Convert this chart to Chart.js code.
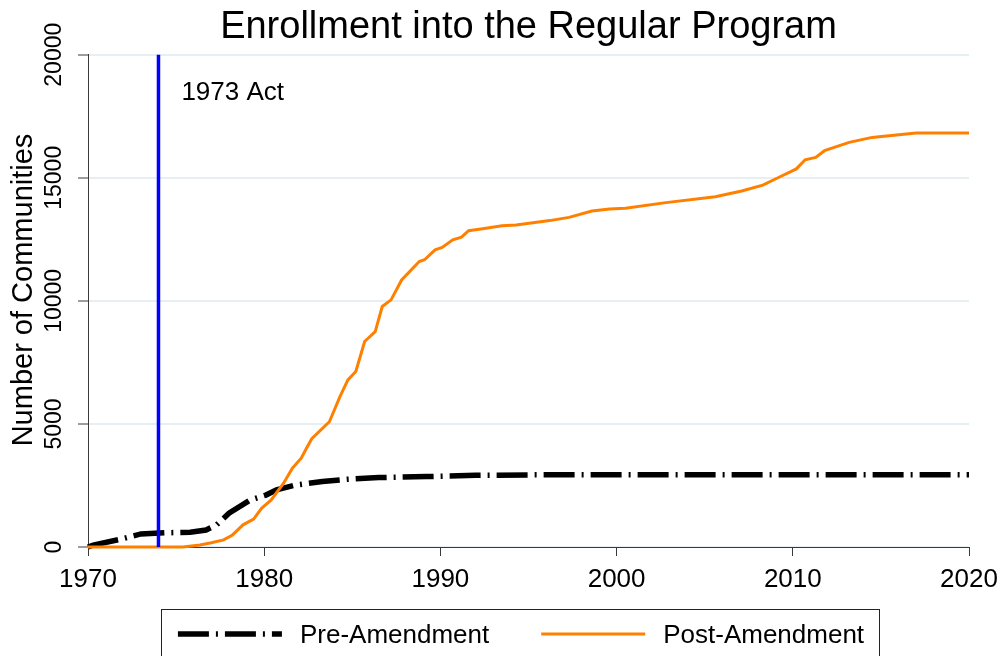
<!DOCTYPE html>
<html><head><meta charset="utf-8">
<script src="https://cdn.jsdelivr.net/npm/chart.js@4.4.1/dist/chart.umd.min.js"></script>
<style>html,body{margin:0;padding:0;background:#fff}#wrap{width:1003px;height:656px;position:relative}</style>
</head><body><div id="wrap"><canvas id="c" width="1003" height="656"></canvas></div>
<script>
const chartTitle = 'Enrollment into the Regular Program';
const yAxisTitle = 'Number of Communities';
const seriesNames = ['Pre-Amendment', 'Post-Amendment'];
const xTicks = [1970, 1980, 1990, 2000, 2010, 2020];
const yTicks = [0, 5000, 10000, 15000, 20000];

const preYears  = [1970.0, 1970.3, 1971.8, 1973.0, 1974.5, 1975.8, 1976.7, 1977.3, 1978.0, 1979.2, 1980.1, 1980.7, 1981.8, 1983.3, 1984.7, 1986.5, 1989.2, 1992.0, 1995.0, 2020.0];
const preValues = [0, 80, 310, 530, 580, 600, 690, 900, 1370, 1910, 2110, 2320, 2520, 2660, 2750, 2820, 2860, 2910, 2930, 2940];

const postYears  = [1970.0, 1975.4, 1976.35, 1977.0, 1977.7, 1978.2, 1978.8, 1979.4, 1979.85, 1980.4, 1981.1, 1981.6, 1982.1, 1982.4, 1982.7, 1983.7, 1984.3, 1984.75, 1985.2, 1985.7, 1986.3, 1986.7, 1987.2, 1987.8, 1988.8, 1989.1, 1989.7, 1990.1, 1990.7, 1991.2, 1991.6, 1992.4, 1993.5, 1994.3, 1996.2, 1997.3, 1998.6, 1999.6, 2000.5, 2002.8, 2005.6, 2007.1, 2008.3, 2009.1, 2010.2, 2010.7, 2011.3, 2011.8, 2013.2, 2014.5, 2015.6, 2017.0, 2020.0];
const postValues = [0, 0, 80, 170, 290, 490, 900, 1130, 1570, 1910, 2590, 3200, 3610, 4010, 4400, 5090, 6110, 6790, 7130, 8350, 8750, 9770, 10040, 10850, 11600, 11670, 12070, 12170, 12480, 12590, 12850, 12930, 13050, 13080, 13260, 13390, 13650, 13730, 13760, 13990, 14230, 14460, 14700, 14980, 15360, 15730, 15830, 16100, 16440, 16640, 16720, 16820, 16820];

const actYears = [1974, 1974];
const actValues = [0, 20000];
const actLabel = '1973 Act';
const actLabelPos = [1975.3, 18450];

const FONT = "'Liberation Sans', Arial, sans-serif";

function pts(xs, ys) { return xs.map((x, i) => ({x: x, y: ys[i]})); }

const overlay = {
  id: 'overlay',
  afterDraw(chart) {
    const ctx = chart.ctx;
    const xs = chart.scales.x, ys = chart.scales.y;
    ctx.save();
    ctx.fillStyle = '#000';
    // y tick labels (rotated)
    ctx.font = '23px ' + FONT;
    ctx.textAlign = 'center';
    ctx.textBaseline = 'middle';
    yTicks.forEach(v => {
      ctx.save();
      ctx.translate(55, ys.getPixelForValue(v));
      ctx.rotate(-Math.PI / 2);
      ctx.fillText(String(v), 0, 0);
      ctx.restore();
    });
    // y axis title
    ctx.save();
    ctx.font = '29px ' + FONT;
    ctx.translate(24, 290);
    ctx.rotate(-Math.PI / 2);
    ctx.fillText(yAxisTitle, 0, 0);
    ctx.restore();
    // act label
    ctx.font = '26px ' + FONT;
    ctx.textAlign = 'left';
    ctx.fillText(actLabel, xs.getPixelForValue(actLabelPos[0]), ys.getPixelForValue(actLabelPos[1]));
    // legend
    const ds = chart.data.datasets;
    const items = [ds[0], ds[1]];
    const sampleLen = 104, textGap = 18, itemGap = 52;
    ctx.font = '26px ' + FONT;
    const widths = items.map(d => ctx.measureText(d.label).width);
    const total = items.length * (sampleLen + textGap) + widths.reduce((a, b) => a + b, 0) + itemGap * (items.length - 1);
    let cx = 521 - total / 2;
    const ly = 634;
    ctx.strokeStyle = '#222';
    ctx.lineWidth = 1;
    ctx.strokeRect(161.5, 609.5, 718, 60);
    items.forEach((d, i) => {
      ctx.save();
      ctx.strokeStyle = d.borderColor;
      ctx.lineWidth = d.borderWidth;
      ctx.setLineDash(d.borderDash || []);
      ctx.lineCap = 'butt';
      ctx.beginPath();
      ctx.moveTo(cx, ly);
      ctx.lineTo(cx + sampleLen, ly);
      ctx.stroke();
      ctx.restore();
      cx += sampleLen + textGap;
      ctx.fillStyle = '#000';
      ctx.textBaseline = 'middle';
      ctx.fillText(d.label, cx, ly + 2);
      cx += widths[i] + itemGap;
    });
    ctx.restore();
  }
};

new Chart(document.getElementById('c'), {
  type: 'line',
  data: {
    datasets: [
      { label: seriesNames[0], data: pts(preYears, preValues), borderColor: '#000000', borderWidth: 5.5,
        borderDash: [31, 7, 2, 7], borderCapStyle: 'butt', pointRadius: 0, tension: 0, clip: false, order: 3 },
      { label: seriesNames[1], data: pts(postYears, postValues), borderColor: '#ff8000', borderWidth: 3,
        pointRadius: 0, tension: 0, clip: false, order: 2 },
      { label: actLabel, data: pts(actYears, actValues), borderColor: '#0000ff', borderWidth: 3.5,
        pointRadius: 0, tension: 0, clip: false, order: 1 }
    ]
  },
  options: {
    responsive: false,
    devicePixelRatio: 1,
    animation: false,
    events: [],
    layout: { padding: 0 },
    plugins: {
      legend: { display: false },
      tooltip: { enabled: false },
      title: {
        display: true, text: chartTitle, fullSize: false, color: '#000',
        font: { family: FONT, size: 38, weight: 'normal', lineHeight: 1.15 },
        padding: { top: 6, bottom: 5 }
      }
    },
    scales: {
      x: {
        type: 'linear', min: 1970, max: 2020,
        afterBuildTicks: s => { s.ticks = xTicks.map(v => ({value: v})); },
        afterFit: s => { s.height = 109; s.paddingRight = 34; },
        ticks: { color: '#000', font: { family: FONT, size: 26 }, padding: 8, maxRotation: 0, autoSkip: false,
                 callback: v => String(v) },
        grid: { drawOnChartArea: false, drawTicks: true, tickLength: 9, tickColor: '#3a3a3a', tickWidth: 1 },
        border: { color: '#3a3a3a', width: 1 }
      },
      y: {
        type: 'linear', min: 0, max: 20000,
        afterBuildTicks: s => { s.ticks = yTicks.map(v => ({value: v})); },
        afterFit: s => { s.width = 88; },
        ticks: { display: false },
        grid: { color: '#e6eff1', lineWidth: 2, drawTicks: true, tickLength: 10, tickColor: '#3a3a3a', tickWidth: 1 },
        border: { color: '#3a3a3a', width: 1 }
      }
    }
  },
  plugins: [overlay]
});
</script>
</body></html>
